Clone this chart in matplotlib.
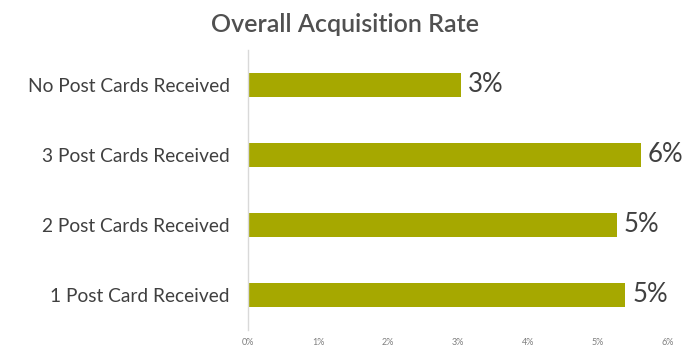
import matplotlib
matplotlib.use("Agg")
import matplotlib.pyplot as plt
from matplotlib.ticker import FuncFormatter

categories = ["1 Post Card Received", "2 Post Cards Received", "3 Post Cards Received", "No Post Cards Received"]
values = [5.39, 5.27, 5.61, 3.04]
xticks = [0, 1, 2, 3, 4, 5, 6]

plt.rcParams['font.family'] = ['Lato', 'DejaVu Sans']

fig = plt.figure(figsize=(6.85, 3.54), dpi=100)
ax = fig.add_axes([248/685, 1-330/354, (668-248)/685, 280/354])

bar_color = "#A6A800"
ypos = list(range(len(categories)))
ax.barh(ypos, values, height=0.34, color=bar_color)
for y, v in zip(ypos, values):
    ax.text(v + 0.1, y, f"{round(v):.0f}%", va="center", ha="left", fontsize=18.5,
            color="#404040")

ax.set_xlim(0, 6)
ax.set_ylim(-0.5, len(categories) - 0.5)
ax.set_xticks(xticks)
ax.xaxis.set_major_formatter(FuncFormatter(lambda x, p: f"{x:.0f}%"))
ax.set_yticks(ypos)
ax.set_yticklabels(categories)
ax.tick_params(axis='x', length=0, labelsize=6.5, labelcolor="#7f7f7f", pad=6)
ax.tick_params(axis='y', length=0, labelsize=13.8, labelcolor="#404040", pad=13)
for s in ["top", "right", "bottom"]:
    ax.spines[s].set_visible(False)
ax.spines["left"].set_color("#d9d9d9")
ax.spines["left"].set_linewidth(1)

fig.text(345/685, 1 - 24/354, "Overall Acquisition Rate", ha="center", va="center",
         fontsize=18, fontweight="semibold", color="#505050")

fig.savefig("out.png", dpi=100)
